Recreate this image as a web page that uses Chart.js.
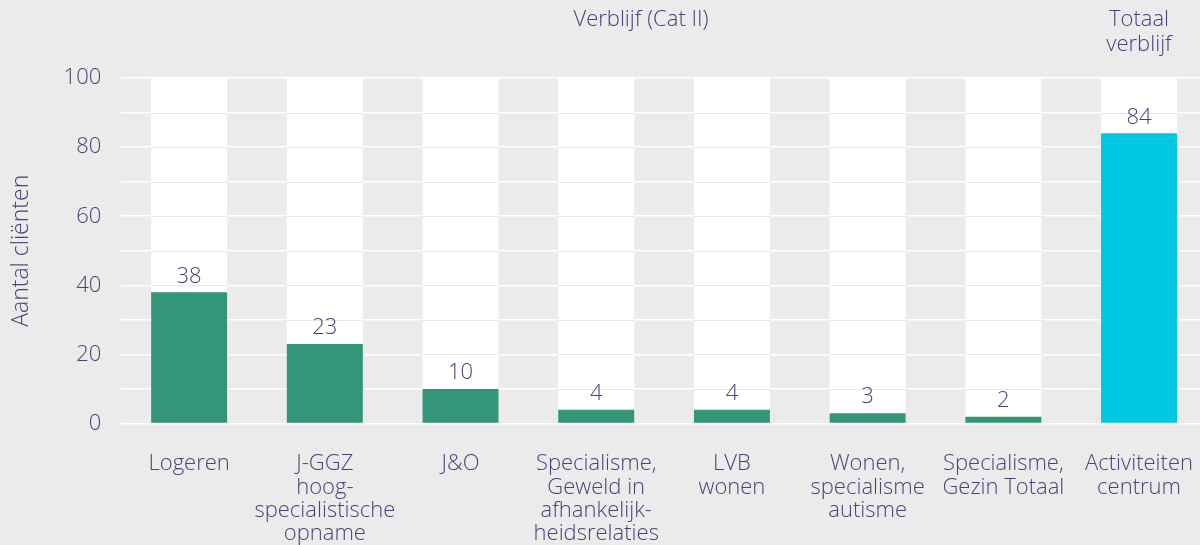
<!DOCTYPE html>
<html>
<head>
<meta charset="utf-8">
<script src="https://cdn.jsdelivr.net/npm/chart.js@4/dist/chart.umd.min.js"></script>
<style>
  html, body { margin: 0; padding: 0; background: #ebebeb; overflow: hidden; }
  #wrap { width: 1222px; height: 545px; position: relative; }
</style>
</head>
<body>
<div id="wrap"><canvas id="chart"></canvas></div>
<script>
const categories = [
  ["Logeren"],
  ["J-GGZ", "hoog-", "specialistische", "opname"],
  ["J&O"],
  ["Specialisme,", "Geweld in", "afhankelijk-", "heidsrelaties"],
  ["LVB", "wonen"],
  ["Wonen,", "specialisme", "autisme"],
  ["Specialisme,", "Gezin Totaal"],
  ["Activiteiten", "centrum"]
];
const clientCounts = [38, 23, 10, 4, 4, 3, 2, 84];
const columnMax = [100, 100, 100, 100, 100, 100, 100, 100];
const barColors = ["#33967a", "#33967a", "#33967a", "#33967a", "#33967a", "#33967a", "#33967a", "#00c8e0"];
const yTicks = [0, 20, 40, 60, 80, 100];

const textColor = "#4a4279";
const fontFamily = "'Open Sans', sans-serif";

const overlayPlugin = {
  id: "overlay",
  afterDatasetDraw(chart, args) {
    // faint grid lines across the white columns
    if (args.index !== 1) return;
    const ctx = chart.ctx;
    const y = chart.scales.y;
    const meta = chart.getDatasetMeta(1);
    ctx.save();
    ctx.strokeStyle = "#e6e6e6";
    ctx.lineWidth = 1;
    y.ticks.forEach(t => {
      if (t.value === 0 || t.value === 100) return;
      const py = Math.round(y.getPixelForValue(t.value)) + 0.5;
      meta.data.forEach(bar => {
        ctx.beginPath();
        ctx.moveTo(bar.x - bar.width / 2, py);
        ctx.lineTo(bar.x + bar.width / 2, py);
        ctx.stroke();
      });
    });
    ctx.restore();
  },
  afterDraw(chart) {
    const ctx = chart.ctx;
    const x = chart.scales.x;
    const meta = chart.getDatasetMeta(0);
    ctx.save();
    ctx.fillStyle = textColor;
    ctx.font = "300 22px " + fontFamily;
    ctx.textAlign = "center";
    ctx.textBaseline = "bottom";
    meta.data.forEach((bar, i) => {
      ctx.fillText(String(clientCounts[i]), bar.x, bar.y - 5);
    });
    ctx.textBaseline = "middle";
    ctx.fillText("Verblijf (Cat II)", x.getPixelForValue(3.33), 20);
    ctx.fillText("Totaal", x.getPixelForValue(7), 20);
    ctx.fillText("verblijf", x.getPixelForValue(7), 45);
    ctx.restore();
  }
};

new Chart(document.getElementById("chart"), {
  type: "bar",
  data: {
    labels: categories,
    datasets: [
      {
        data: clientCounts,
        backgroundColor: barColors,
        grouped: false,
        barPercentage: 0.56,
        categoryPercentage: 1
      },
      {
        data: columnMax,
        backgroundColor: "#ffffff",
        grouped: false,
        barPercentage: 0.56,
        categoryPercentage: 1
      }
    ]
  },
  options: {
    responsive: true,
    maintainAspectRatio: false,
    animation: false,
    layout: { padding: { top: 78, left: 8, right: 0, bottom: -29 } },
    plugins: {
      legend: { display: false },
      tooltip: { enabled: false }
    },
    scales: {
      x: {
        grid: { display: false, drawTicks: false },
        border: { display: false },
        ticks: {
          color: textColor,
          font: { family: fontFamily, size: 22, weight: 300, lineHeight: 1.05 },
          padding: 29,
          maxRotation: 0,
          autoSkip: false
        }
      },
      y: {
        min: 0,
        max: 100,
        grid: { color: "#ffffff", lineWidth: 1.5, drawTicks: false },
        border: { display: false },
        ticks: {
          stepSize: 10,
          color: textColor,
          font: { family: fontFamily, size: 22, weight: 300 },
          padding: 20,
          callback: v => (yTicks.includes(v) ? v : "")
        },
        title: {
          display: true,
          text: "Aantal cliënten",
          color: textColor,
          font: { family: fontFamily, size: 23, weight: 300 },
          padding: { top: 0, bottom: 8 }
        }
      }
    }
  },
  plugins: [overlayPlugin]
});
</script>
</body>
</html>
